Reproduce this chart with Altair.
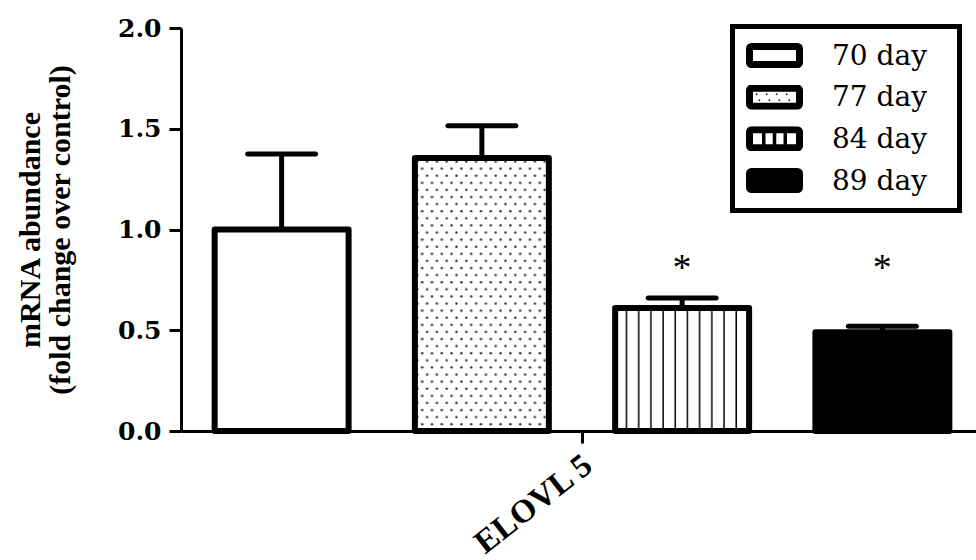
import base64

import altair as alt
import pandas as pd

# ---- data -------------------------------------------------------------
genes = ["ELOVL 5", "ELOVL 5", "ELOVL 5", "ELOVL 5"]
days = ["70 day", "77 day", "84 day", "89 day"]
means = [1.00, 1.355, 0.61, 0.49]
sems = [0.375, 0.16, 0.05, 0.03]
marks = ["", "", "*", "*"]
y_ticks = [0.0, 0.5, 1.0, 1.5, 2.0]
y_title = ["mRNA abundance", "(fold change over control)"]


# ---- fill textures (small SVG images laid over the bars) ----------------
def svg_uri(svg):
    return "data:image/svg+xml;base64," + base64.b64encode(svg.encode("utf-8")).decode("ascii")


DOTS = svg_uri(
    "<svg xmlns='http://www.w3.org/2000/svg' width='100%' height='100%'>"
    "<defs><pattern id='d' width='9.8' height='14.2' patternUnits='userSpaceOnUse'>"
    "<circle cx='2.4' cy='3.5' r='1.2' fill='#2a2a2a'/>"
    "<circle cx='7.3' cy='10.6' r='1.2' fill='#2a2a2a'/>"
    "</pattern></defs><rect width='100%' height='100%' fill='url(#d)'/></svg>"
)
STRIPES = svg_uri(
    "<svg xmlns='http://www.w3.org/2000/svg' width='100%' height='100%'>"
    "<defs><pattern id='s' width='12.18' height='10' patternUnits='userSpaceOnUse'>"
    "<rect x='10.7' y='0' width='3' height='10' fill='black'/>"
    "</pattern></defs><rect width='100%' height='100%' fill='url(#s)'/></svg>"
)
BAR_TEXTURE = {"77 day": DOTS, "84 day": STRIPES}


def legend_symbol(inner, fill="white"):
    return svg_uri(
        "<svg xmlns='http://www.w3.org/2000/svg' width='57' height='25' viewBox='0 0 57 25'>"
        f"<rect x='3.5' y='3.5' width='50' height='18' rx='2' fill='{fill}'/>"
        f"{inner}"
        "<rect x='3.5' y='3.5' width='50' height='18' rx='2' fill='none' "
        "stroke='black' stroke-width='7'/></svg>"
    )


dot_row = "".join(
    f"<circle cx='{cx}' cy='{cy}' r='1' fill='#333'/>"
    for cy, xs in ((9.6, (10.7, 20.7, 30.7, 40.7)), (15.6, (13.3, 23.3, 33.3, 43.3)))
    for cx in xs
)
dividers = "".join(
    f"<rect x='{x - 1.75}' y='3.5' width='3.5' height='18' fill='black'/>" for x in (17.75, 28.5, 39.25)
)
LEGEND_SYMBOL = {
    "70 day": legend_symbol(""),
    "77 day": legend_symbol(dot_row),
    "84 day": legend_symbol(dividers),
    "89 day": legend_symbol("", fill="black"),
}

df = pd.DataFrame({"gene": genes, "day": days, "mean": means, "sem": sems, "mark": marks})
df["texture"] = [BAR_TEXTURE.get(d, "") for d in days]
legend_df = pd.DataFrame({"day": days, "symbol": [LEGEND_SYMBOL[d] for d in days]})

SERIF = "Liberation Serif"
WIDE_SERIF = "DejaVu Serif"

# ---- bars, textures, error bars ------------------------------------------
x_enc = alt.X(
    "gene:N",
    title=None,
    scale=alt.Scale(range=[0, 802], paddingInner=0, paddingOuter=0),
    axis=alt.Axis(
        domainColor="black",
        domainWidth=3,
        tickColor="black",
        tickWidth=3,
        tickSize=12,
        labelAngle=-38,
        labelAlign="right",
        labelBaseline="middle",
        labelFont=SERIF,
        labelFontWeight="bold",
        labelFontSize=33,
        labelColor="black",
        labelPadding=18,
        labelOffset=6,
        grid=False,
    ),
)
xo_enc = alt.XOffset("day:N", sort=days, scale=alt.Scale(paddingInner=0.331, paddingOuter=0.168))
y_enc = alt.Y(
    "mean:Q",
    title=y_title,
    scale=alt.Scale(domain=[0, 2], nice=False, zero=True),
    axis=alt.Axis(
        values=y_ticks,
        format=".1f",
        domainColor="black",
        domainWidth=3,
        tickColor="black",
        tickWidth=3,
        tickSize=12,
        labelFont=WIDE_SERIF,
        labelFontWeight="bold",
        labelFontSize=25,
        labelColor="black",
        labelPadding=8,
        titleFont=SERIF,
        titleFontWeight="bold",
        titleFontSize=30,
        titleLineHeight=30,
        titleColor="black",
        titlePadding=42,
        grid=False,
    ),
)

base = alt.Chart(df).encode(x=x_enc, xOffset=xo_enc).transform_calculate(upper="datum.mean + datum.sem")

bar_fill = base.mark_bar(strokeWidth=0).encode(
    y=y_enc,
    fill=alt.Fill("day:N", scale=alt.Scale(domain=days, range=["white", "white", "white", "black"]), legend=None),
)

textures = (
    base.transform_filter("datum.texture != ''")
    .mark_image(aspect=False)
    .encode(y="mean:Q", y2=alt.datum(0), url="texture:N")
)

stems = base.mark_rule(color="black", strokeWidth=5).encode(y="mean:Q", y2="upper:Q")

caps = base.mark_tick(
    orient="horizontal", size=73, thickness=5, cornerRadius=2.5, color="black", opacity=1
).encode(y="upper:Q")

outline = base.mark_bar(
    fillOpacity=0, stroke="black", strokeWidth=6, strokeJoin="round"
).encode(y="mean:Q")

stars = (
    base.transform_filter("datum.mark != ''")
    .transform_joinaggregate(top="max(upper)")
    .mark_text(font=SERIF, fontSize=38, baseline="middle", dy=-29, color="black")
    .encode(y="top:Q", text="mark:N")
)

data_layer = alt.layer(bar_fill, textures, stems, caps, outline, stars)

# ---- boxed legend --------------------------------------------------------
legend_y = alt.Y(
    "day:N",
    sort=days,
    scale=alt.Scale(type="point", domain=days, range=[27.5, 152.5], padding=0),
    axis=None,
)

legend_box = (
    alt.Chart(legend_df)
    .transform_aggregate(n="count()")
    .mark_rect(fillOpacity=0, stroke="black", strokeWidth=5)
    .encode(x=alt.value(551.5), x2=alt.value(778.5), y=alt.value(-1.5), y2=alt.value(182.5))
)

legend_symbols = (
    alt.Chart(legend_df)
    .mark_image(width=57, height=25, aspect=False, align="center", baseline="middle")
    .encode(x=alt.value(593.5), y=legend_y, url="symbol:N")
)

legend_text = (
    alt.Chart(legend_df)
    .mark_text(align="left", baseline="middle", font=WIDE_SERIF, fontSize=28, color="black", dy=1)
    .encode(x=alt.value(651), y=legend_y, text="day:N")
)

legend_layer = alt.layer(legend_box, legend_symbols, legend_text)

chart = (
    alt.layer(data_layer, legend_layer)
    .resolve_scale(y="independent")
    .properties(
        width=795,
        height=403,
        padding={"left": 181, "top": 28, "right": 0, "bottom": 129},
        autosize=alt.AutoSizeParams(type="none"),
        background="white",
    )
    .configure_view(stroke=None)
)

chart.save("out.html", embed_options={"renderer": "svg", "actions": False})
